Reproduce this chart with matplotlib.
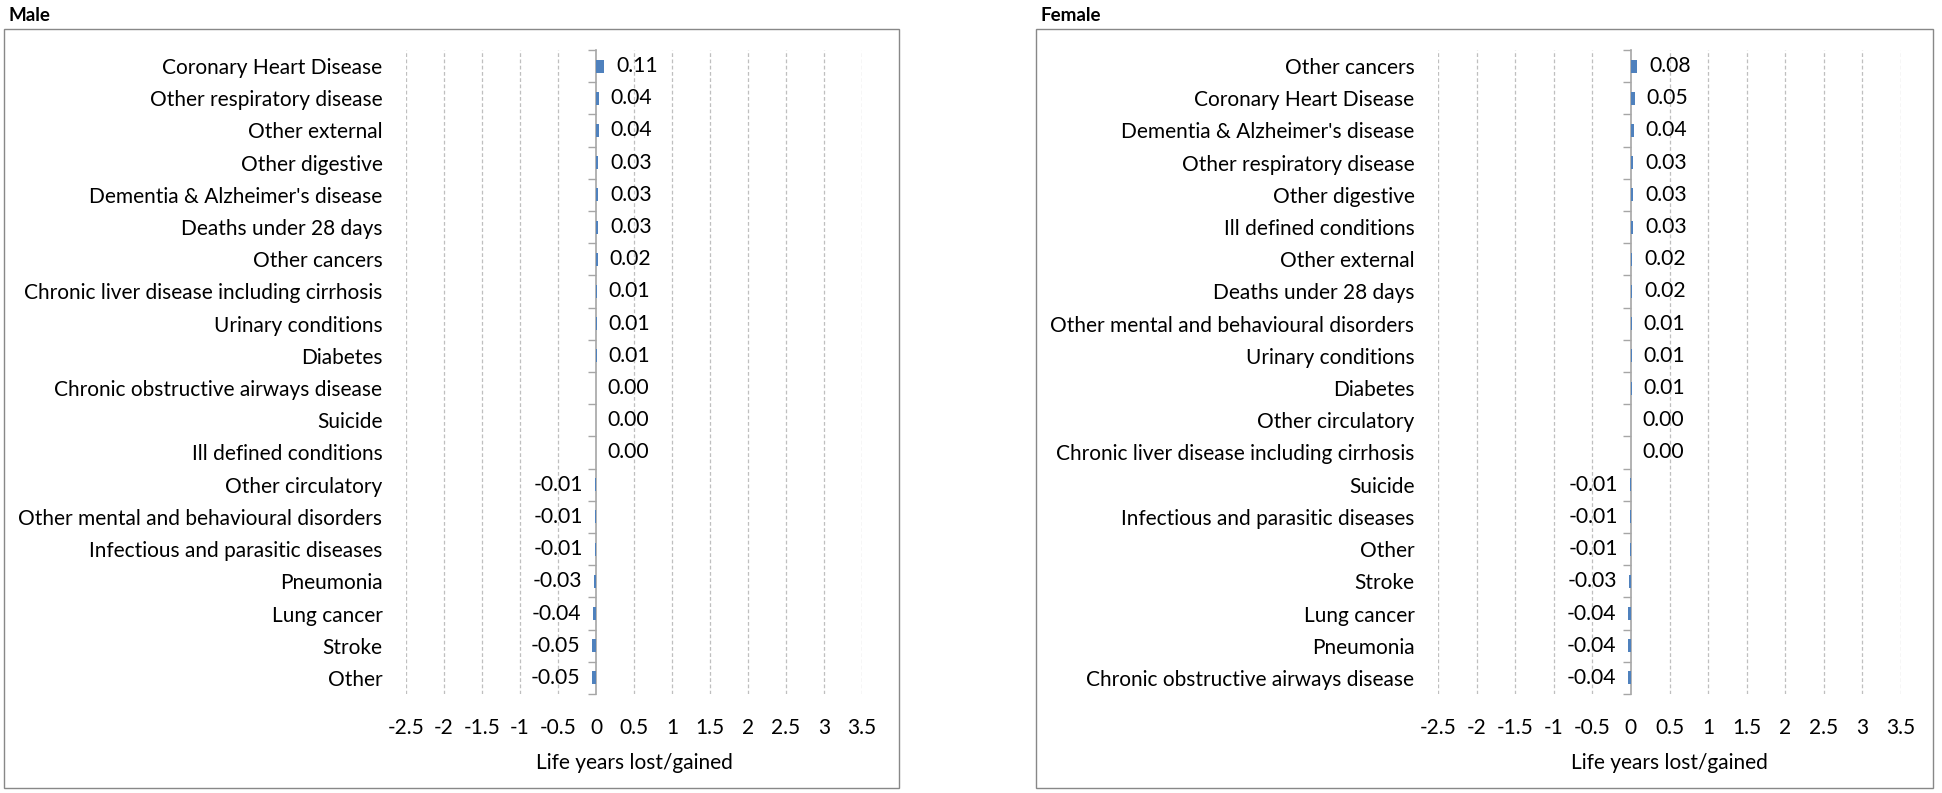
"""
Life years lost/gained by cause of death, male and female side by side.
"""

import matplotlib
matplotlib.use('Agg')
import matplotlib.pyplot as plt
from matplotlib.patches import Rectangle
from matplotlib.ticker import FixedLocator, NullLocator

plt.rcParams['font.family'] = ['Lato', 'DejaVu Sans']

# data, top row first
male_causes = [
    'Coronary Heart Disease', 'Other respiratory disease', 'Other external',
    'Other digestive', "Dementia & Alzheimer's disease", 'Deaths under 28 days',
    'Other cancers', 'Chronic liver disease including cirrhosis',
    'Urinary conditions', 'Diabetes', 'Chronic obstructive airways disease',
    'Suicide', 'Ill defined conditions', 'Other circulatory',
    'Other mental and behavioural disorders', 'Infectious and parasitic diseases',
    'Pneumonia', 'Lung cancer', 'Stroke', 'Other',
]
male_values = [0.11, 0.04, 0.04, 0.03, 0.03, 0.03, 0.02, 0.01, 0.01, 0.01,
               0.00, 0.00, 0.00, -0.01, -0.01, -0.01, -0.03, -0.04, -0.05, -0.05]

female_causes = [
    'Other cancers', 'Coronary Heart Disease', "Dementia & Alzheimer's disease",
    'Other respiratory disease', 'Other digestive', 'Ill defined conditions',
    'Other external', 'Deaths under 28 days',
    'Other mental and behavioural disorders', 'Urinary conditions', 'Diabetes',
    'Other circulatory', 'Chronic liver disease including cirrhosis', 'Suicide',
    'Infectious and parasitic diseases', 'Other', 'Stroke', 'Lung cancer',
    'Pneumonia', 'Chronic obstructive airways disease',
]
female_values = [0.08, 0.05, 0.04, 0.03, 0.03, 0.03, 0.02, 0.02, 0.01, 0.01,
                 0.01, 0.00, 0.00, -0.01, -0.01, -0.01, -0.03, -0.04, -0.04, -0.04]

xticks = [-2.5, -2, -1.5, -1, -0.5, 0, 0.5, 1, 1.5, 2, 2.5, 3, 3.5]

W, H = 1942, 793
BAR = '#4F81BD'
GRID = '#BFBFBF'
AXIS = '#A6A6A6'
BORDER = '#888888'
FS = 15


def px(x0, y0, x1, y1):
    # pixel box (top-left origin) -> figure fraction rect
    return [x0 / W, 1 - y1 / H, (x1 - x0) / W, (y1 - y0) / H]


def panel(fig, title, box, axrect, causes, values):
    bx0, by0, bx1, by1 = box
    fig.patches.append(Rectangle((bx0 / W, 1 - by1 / H), (bx1 - bx0) / W, (by1 - by0) / H,
                                 transform=fig.transFigure, fill=False,
                                 edgecolor=BORDER, linewidth=1.0))
    fig.text((bx0 + 4) / W, 1 - 15.5 / H, title, fontsize=13.5, fontweight='bold',
             va='center', ha='left')

    ax = fig.add_axes(px(*axrect))
    n = len(causes)
    ypos = list(range(n))
    bars = ax.barh(ypos, values, height=0.4, color=BAR, zorder=3)
    ax.bar_label(bars, labels=['%.2f' % v for v in values], padding=8.5,
                 fontsize=15.2, zorder=4)

    ax.set_xlim(xticks[0], xticks[-1])
    ax.set_ylim(n - 0.5, -0.5)
    ax.set_xticks(xticks)
    ax.set_xticklabels(['%g' % t for t in xticks])
    ax.set_yticks(ypos)
    ax.set_yticklabels(causes)

    ax.tick_params(axis='x', length=0, pad=17, labelsize=FS)
    ax.tick_params(axis='y', which='major', length=0, pad=17, labelsize=FS)

    for s in ['top', 'right', 'bottom', 'left']:
        ax.spines[s].set_visible(False)

    # vertical category axis sitting at x = 0, with tick marks between rows
    x0frac = (0 - xticks[0]) / (xticks[-1] - xticks[0])
    sec = ax.secondary_yaxis(x0frac)
    sec.spines['left'].set_color(AXIS)
    sec.spines['left'].set_linewidth(1.2)
    sec.yaxis.set_major_locator(FixedLocator([i - 0.5 for i in range(n + 1)]))
    sec.yaxis.set_minor_locator(NullLocator())
    sec.tick_params(axis='y', length=6, width=1, color=AXIS, labelleft=False)

    for t in xticks:
        if t != 0:
            ax.axvline(t, color=GRID, linewidth=0.9, linestyle=(0, (3, 2)), zorder=1)

    ax.set_xlabel('Life years lost/gained', fontsize=FS, labelpad=11)
    return ax


fig = plt.figure(figsize=(W / 100, H / 100), dpi=100)

ax_m = panel(fig, 'Male', (4, 29, 899, 788), (406, 50, 862, 694),
             male_causes, male_values)
ax_f = panel(fig, 'Female', (1036, 29, 1933, 788), (1438, 50, 1901, 694),
             female_causes, female_values)

plt.savefig('out.png', dpi=100)
